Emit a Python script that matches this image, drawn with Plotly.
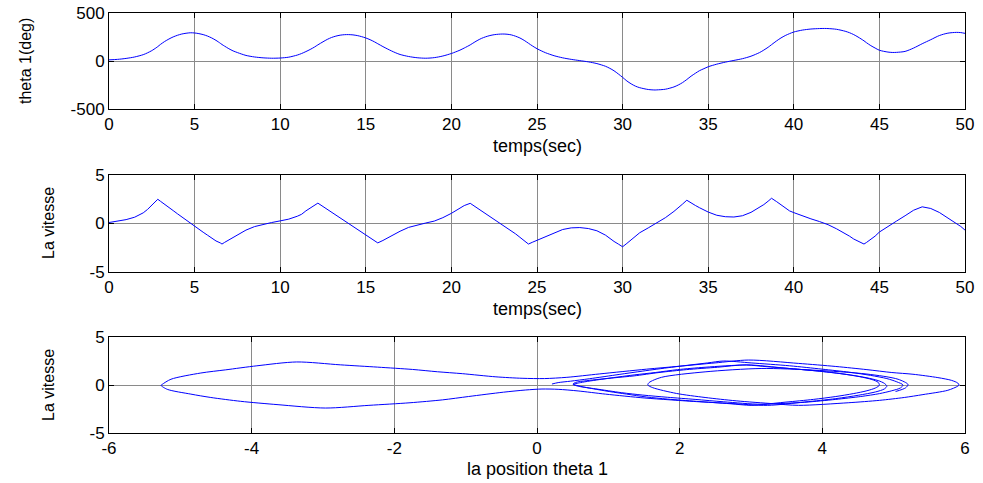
import numpy as np
import plotly.graph_objects as go

# time (s)
time_s = [0.0, 0.5, 1.0, 1.5, 2.0, 2.25, 2.5, 2.75, 2.85, 3.0, 3.25, 3.5, 3.75, 4.0, 4.25, 4.5, 4.75,
          5.0, 5.25, 5.5, 5.75, 6.0, 6.25, 6.5, 6.6, 6.75, 7.0, 7.25, 7.5, 7.75, 8.0, 8.5, 9.0, 9.5,
          10.0, 10.5, 11.0, 11.25, 11.5, 11.75, 12.0, 12.2, 12.5, 12.75, 13.0, 13.25, 13.5, 13.75,
          14.0, 14.25, 14.5, 14.75, 15.0, 15.25, 15.5, 15.7, 16.0, 16.25, 16.5, 16.75, 17.0, 17.5,
          18.0, 18.5, 19.0, 19.5, 20.0, 20.25, 20.5, 20.75, 21.1, 21.25, 21.5, 21.75, 22.0, 22.25,
          22.5, 22.75, 23.0, 23.25, 23.5, 23.75, 24.0, 24.25, 24.5, 24.75, 25.0, 25.25, 25.5, 26.0,
          26.5, 27.0, 27.5, 28.0, 28.5, 29.0, 29.25, 29.5, 29.75, 30.0, 30.25, 30.5, 30.75, 31.0,
          31.5, 31.9, 32.0, 32.5, 33.0, 33.25, 33.5, 33.75, 34.0, 34.25, 34.5, 34.75, 35.0, 35.5,
          36.0, 36.5, 37.0, 37.5, 38.0, 38.25, 38.5, 38.7, 39.0, 39.25, 39.5, 39.75, 40.0, 40.5,
          41.0, 41.5, 41.8, 42.0, 42.5, 43.0, 43.25, 43.5, 43.75, 44.1, 44.25, 44.5, 44.75, 45.0,
          45.5, 45.75, 46.0, 46.5, 47.0, 47.5, 48.0, 48.5, 49.0, 49.5, 49.75, 50.0]

# theta 1 (deg)
theta_deg = [12, 17, 27, 42, 66, 85, 108, 137, 150, 172, 203, 229, 251, 268, 281, 289, 294,
             292, 285, 275, 260, 240, 215, 185, 172, 155, 128, 105, 88, 72, 58, 42, 33, 29,
             31, 40, 62, 78, 98, 120, 145, 168, 200, 225, 245, 259, 269, 274,
             275, 272, 265, 254, 240, 222, 200, 180, 150, 127, 105, 85, 68, 47,
             34, 29, 35, 52, 78, 95, 113, 135, 168, 185, 212, 235, 252, 265,
             274, 279, 281, 279, 272, 258, 240, 215, 185, 155, 128, 106, 86, 55,
             33, 17, 4, -9, -27, -55, -76, -102, -135, -170, -208, -238, -262, -278,
             -297, -302, -301, -294, -270, -250, -225, -193, -158, -128, -100, -80, -60, -33,
             -12, 6, 24, 50, 88, 114, 143, 170, 210, 240, 265, 285, 302, 322,
             333, 338, 339, 338, 330, 310, 295, 275, 250, 210, 190, 160, 135, 112,
             93, 89, 90, 100, 135, 180, 222, 265, 290, 298, 296, 288]

# La vitesse
vitesse = [0.1, 0.25, 0.4, 0.65, 1.1, 1.45, 1.85, 2.3, 2.5, 2.3, 2.0, 1.65, 1.33, 1.0, 0.67, 0.33, 0.0,
           -0.3, -0.6, -0.9, -1.2, -1.5, -1.8, -2.0, -2.12, -1.95, -1.7, -1.47, -1.25, -0.95, -0.68, -0.32, -0.08, 0.1,
           0.27, 0.45, 0.75, 0.95, 1.3, 1.6, 1.85, 2.1, 1.75, 1.46, 1.16, 0.87, 0.57, 0.28,
           -0.02, -0.3, -0.6, -0.9, -1.2, -1.5, -1.78, -2.0, -1.75, -1.5, -1.28, -1.05, -0.8, -0.4,
           -0.15, 0.05, 0.25, 0.6, 1.05, 1.3, 1.6, 1.85, 2.08, 1.9, 1.62, 1.33, 1.04, 0.75,
           0.46, 0.17, -0.12, -0.41, -0.72, -1.07, -1.42, -1.77, -2.12, -1.92, -1.73, -1.54, -1.35, -0.95,
           -0.62, -0.45, -0.42, -0.52, -0.75, -1.2, -1.55, -1.85, -2.12, -2.4, -2.05, -1.7, -1.3, -0.95,
           -0.45, -0.03, 0.07, 0.6, 1.25, 1.58, 2.0, 2.4, 2.1, 1.86, 1.62, 1.38, 1.18, 0.85,
           0.7, 0.67, 0.8, 1.15, 1.65, 1.95, 2.3, 2.6, 2.25, 1.93, 1.6, 1.3, 1.12, 0.77,
           0.48, 0.2, 0.0, -0.12, -0.55, -1.0, -1.3, -1.6, -1.85, -2.12, -1.95, -1.65, -1.3, -0.88,
           -0.28, 0.0, 0.25, 0.8, 1.37, 1.72, 1.55, 1.14, 0.6, 0.05, -0.3, -0.68]

# tick values / labels
time_ticks = [0, 5, 10, 15, 20, 25, 30, 35, 40, 45, 50]
time_ticklabels = ["0", "5", "10", "15", "20", "25", "30", "35", "40", "45", "50"]
theta_ticks = [-500, 0, 500]
theta_ticklabels = ["-500", "0", "500"]
vit_ticks = [-5, 0, 5]
vit_ticklabels = ["-5", "0", "5"]
pos_ticks = [-6, -4, -2, 0, 2, 4, 6]
pos_ticklabels = ["-6", "-4", "-2", "0", "2", "4", "6"]

theta_rad = (np.array(theta_deg) * np.pi / 180.0).tolist()

W, H = 983, 483
FONT = "Liberation Sans, Arial, sans-serif"
fs = 16

def px_x(p):
    return p / W

def px_y(p):
    return 1 - p / H

xdom = [px_x(109), px_x(965)]
panels = [(13, 109), (175, 272), (337, 433)]

fig = go.Figure()
fig.add_trace(go.Scatter(x=time_s, y=theta_deg, mode="lines",
                         line=dict(color="#0000ff", width=1, shape="spline", smoothing=0.8),
                         xaxis="x", yaxis="y"))
fig.add_trace(go.Scatter(x=time_s, y=vitesse, mode="lines",
                         line=dict(color="#0000ff", width=1), xaxis="x2", yaxis="y2"))
fig.add_trace(go.Scatter(x=theta_rad, y=vitesse, mode="lines",
                         line=dict(color="#0000ff", width=1, shape="spline", smoothing=0.8),
                         xaxis="x3", yaxis="y3"))

common = dict(showline=True, linecolor="black", linewidth=1, mirror="ticks", ticks="inside",
              ticklen=5, tickcolor="black", showgrid=True, gridcolor="#8a8a8a", gridwidth=1,
              zeroline=False, automargin=False, ticklabeloverflow="allow",
              tickfont=dict(family=FONT, size=fs + 1, color="black"))

layout = dict(width=W, height=H, margin=dict(l=0, r=0, t=0, b=0, pad=0, autoexpand=False),
              paper_bgcolor="white", plot_bgcolor="white", showlegend=False)

xt_spec = [(time_ticks, time_ticklabels, [0, 50]), (time_ticks, time_ticklabels, [0, 50]),
           (pos_ticks, pos_ticklabels, [-6, 6])]
yt_spec = [(theta_ticks, theta_ticklabels, [-500, 500]), (vit_ticks, vit_ticklabels, [-5, 5]),
           (vit_ticks, vit_ticklabels, [-5, 5])]
for i, ((top, bot), (xv, xl, xr), (yv, yl, yr)) in enumerate(zip(panels, xt_spec, yt_spec)):
    sfx = "" if i == 0 else str(i + 1)
    layout["xaxis" + sfx] = dict(common, domain=xdom, range=xr, tickmode="array",
                                 tickvals=xv, ticktext=xl, anchor="y" + sfx)
    layout["yaxis" + sfx] = dict(common, domain=[px_y(bot), px_y(top)], range=yr,
                                 tickmode="array", tickvals=yv, ticktext=yl, anchor="x" + sfx)

fig.update_layout(**layout)

ann = []
xt = [("temps(sec)", 146), ("temps(sec)", 309), ("la position theta 1", 469)]
for txt, yp in xt:
    ann.append(dict(text=txt, x=px_x(537), y=px_y(yp), xref="paper", yref="paper",
                    showarrow=False, font=dict(family=FONT, size=18, color="black"),
                    xanchor="center", yanchor="middle"))
yt = [("theta 1(deg)", 25, 61), ("La vitesse", 48, 223), ("La vitesse", 48, 385)]
for txt, xp, yp in yt:
    ann.append(dict(text=txt, x=px_x(xp), y=px_y(yp), xref="paper", yref="paper",
                    showarrow=False, textangle=-90, font=dict(family=FONT, size=fs, color="black"),
                    xanchor="center", yanchor="middle"))
fig.update_layout(annotations=ann)

fig.write_html("out.html", config={"displayModeBar": False},
               post_script="document.body.style.margin='0px';")
